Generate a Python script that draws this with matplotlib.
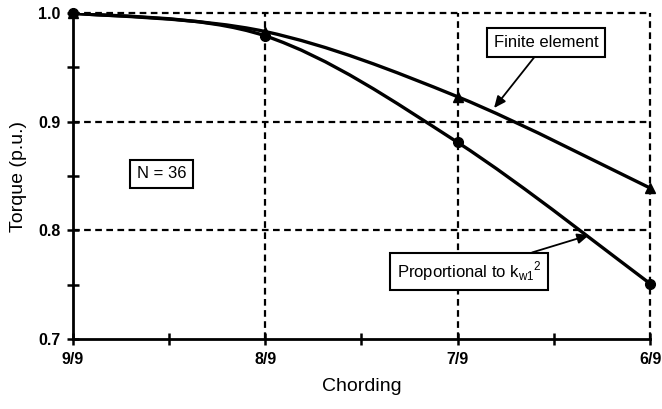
import matplotlib.pyplot as plt
import numpy as np
from matplotlib.path import Path
from matplotlib.patches import PathPatch

plt.rcParams['font.family'] = ['Liberation Sans', 'DejaVu Sans']

chording = ["9/9", "8/9", "7/9", "6/9"]
finite_element = [1.0, 0.983, 0.923, 0.839]
proportional_kw = [1.0, 0.979, 0.881, 0.751]
torque_ticks = [0.7, 0.8, 0.9, 1.0]


def smooth_path(xs, ys):
    # excel style smoothed line: cubic bezier through every point
    pts = np.column_stack([xs, ys]).astype(float)
    ext = np.vstack([pts[0], pts, pts[-1]])
    verts = [pts[0]]
    codes = [Path.MOVETO]
    for i in range(len(pts) - 1):
        p0, p1, p2, p3 = ext[i], ext[i + 1], ext[i + 2], ext[i + 3]
        verts += [p1 + (p2 - p0) / 6, p2 - (p3 - p1) / 6, p2]
        codes += [Path.CURVE4] * 3
    return Path(verts, codes)


fig = plt.figure(figsize=(6.62, 4.09), dpi=100)
ax = fig.add_axes([0.110, 0.171, 0.872, 0.797])

x = np.arange(len(chording))

# dashed grid, not clipped so the top and right lines keep full width
for xv in x[1:]:
    ax.axvline(xv, ls=(0, (3, 2)), lw=1.6, color="black", clip_on=False, zorder=1)
for yv in torque_ticks[1:]:
    ax.axhline(yv, ls=(0, (3, 2)), lw=1.6, color="black", clip_on=False, zorder=1)

for series, marker in [(finite_element, "^"), (proportional_kw, "o")]:
    ax.add_patch(PathPatch(smooth_path(x, series), fill=False, lw=2.4,
                           edgecolor="black", zorder=3))
    ax.plot(x, series, ls="none", marker=marker, ms=7, color="black", zorder=4,
            clip_on=False)

ax.set_xlim(0, 3)
ax.set_ylim(0.7, 1.0)
ax.set_xticks(x)
ax.set_xticklabels(chording)
ax.set_xticks([0.5, 1.5, 2.5], minor=True)
ax.set_yticks(torque_ticks)
ax.set_yticklabels([f"{t:.1f}" for t in torque_ticks])
ax.set_yticks([0.75, 0.85, 0.95], minor=True)
ax.tick_params(which="both", direction="inout", length=8, width=1.8,
               labelsize=11.5, pad=5)
for lab in ax.get_xticklabels() + ax.get_yticklabels():
    lab.set_fontweight("bold")

for side in ["top", "right"]:
    ax.spines[side].set_visible(False)
for side in ["left", "bottom"]:
    ax.spines[side].set_linewidth(2)
    ax.spines[side].set_zorder(5)

ax.set_xlabel("Chording", fontsize=14, labelpad=8)
ax.set_ylabel("Torque (p.u.)", fontsize=14, labelpad=8)

box = dict(boxstyle="square,pad=0.4", fc="white", ec="black", lw=1.5)
arrow = dict(arrowstyle="-|>,head_length=0.5,head_width=0.22", color="black",
             lw=1.3, mutation_scale=14, shrinkA=0, shrinkB=0)
ax.text(0.463, 0.852, "N = 36", fontsize=12, ha="center", va="center", bbox=box)
ax.annotate("Finite element", xy=(2.189, 0.9126), xytext=(2.459, 0.973),
            fontsize=12, ha="center", va="center", bbox=box, arrowprops=arrow)
ax.annotate("Proportional to k$_{\\mathregular{w1}}$$^{\\mathregular{2}}$",
            xy=(2.683, 0.7957), xytext=(2.059, 0.762),
            fontsize=12, ha="center", va="center", bbox=box, arrowprops=arrow)

fig.savefig("out.png", dpi=100)
